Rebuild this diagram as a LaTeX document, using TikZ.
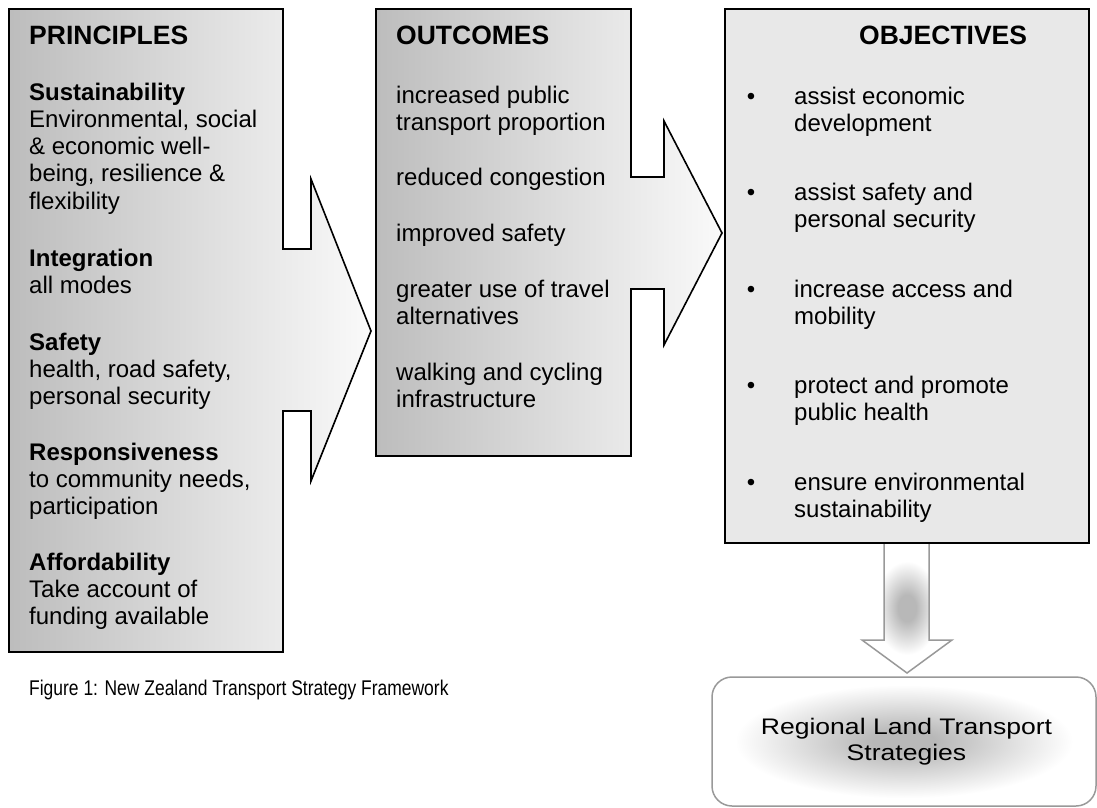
\documentclass[tikz,border=0pt]{standalone}
\usepackage{fontspec}
\setmainfont{Liberation Sans}
\newfontfamily\narrowfont{Liberation Sans}[FakeStretch=0.82]
\newfontfamily\widefont{Liberation Sans}[FakeStretch=1.18]
\definecolor{boxdark}{gray}{0.74}
\definecolor{boxlight}{gray}{0.98}
\definecolor{objfill}{gray}{0.91}
\definecolor{softline}{gray}{0.6}
\definecolor{softcore}{gray}{0.72}
% soft glows for the downward arrow and the strategies box
% (the central 50bp square of a shading is fitted to the path)
\pgfdeclareradialshading{softglow}{\pgfpoint{0bp}{0bp}}{%
  color(0bp)=(softcore); color(4bp)=(softcore); color(22bp)=(white); color(50bp)=(white)}
\pgfdeclareradialshading{arrowglow}{\pgfpoint{0bp}{0bp}}{%
  color(0bp)=(softcore); color(5bp)=(softcore); color(18bp)=(white); color(50bp)=(white)}
% one text line per node: name, x, first baseline, list of lines
\newcommand{\textlines}[4]{%
  \foreach \ln [count=\k from 0] in {#4}{%
    \node[linetext] (#1-\k) at (#2,#3+\k*27.3) {\ln};
  }}
\begin{document}
\begin{tikzpicture}[x=1pt,y=-1pt,
  frame/.style={draw=black,line width=1.6pt,line join=miter},
  fadebox/.style={frame,left color=boxdark,right color=boxlight},
  softshape/.style={draw=softline,line width=1.5pt},
  headtext/.style={anchor=base west,inner sep=0pt,font=\bfseries\fontsize{26.5}{30}\selectfont},
  linetext/.style={anchor=base west,inner sep=0pt,font=\fontsize{24}{27.3}\selectfont},
  bulletmark/.style={anchor=base,inner sep=0pt,font=\fontsize{24}{27.3}\selectfont}]
\useasboundingbox (0,0) rectangle (1097,808);
\fill[white] (0,0) rectangle (1097,808);

% Principles panel merged with its arrow
\draw[fadebox] (9,9) -- (283,9) -- (283,249) -- (311,249) -- (311,179)
  -- (371,331) -- (311,481) -- (311,411) -- (283,411) -- (283,652)
  -- (9,652) -- cycle;

% Outcomes panel merged with its arrow
\draw[fadebox] (376,9) -- (631,9) -- (631,177) -- (664,177) -- (664,121)
  -- (722,233) -- (664,345) -- (664,289) -- (631,289) -- (631,456)
  -- (376,456) -- cycle;

% Downward arrow to the regional strategies
\draw[softshape,line join=miter,shading=arrowglow]
  (884,543) -- (929,543) -- (929,640) -- (952,640)
  -- (907,673) -- (862,640) -- (884,640) -- cycle;

% Objectives panel
\draw[frame,fill=objfill] (725,9) rectangle (1089,543);

% Regional strategies box
\draw[softshape,rounded corners=20pt,shading=softglow] (712,677) rectangle (1096,806);

% Principles text
\node[headtext] (principles) at (29,45) {PRINCIPLES};
\textlines{sustain}{29}{100}{{\textbf{Sustainability}},{Environmental, social},{\& economic well-},{being, resilience \&},{flexibility}}
\textlines{integ}{29}{266.5}{{\textbf{Integration}},{all modes}}
\textlines{safety}{29}{350}{{\textbf{Safety}},{health, road safety,},{personal security}}
\textlines{respons}{29}{460}{{\textbf{Responsiveness}},{to community needs,},{participation}}
\textlines{afford}{29}{570}{{\textbf{Affordability}},{Take account of},{funding available}}

% Outcomes text
\node[headtext] (outcomes) at (396,45) {OUTCOMES};
\textlines{oc1}{396}{103}{{increased public},{transport proportion}}
\textlines{oc2}{396}{185}{{reduced congestion}}
\textlines{oc3}{396}{241}{{improved safety}}
\textlines{oc4}{396}{297}{{greater use of travel},{alternatives}}
\textlines{oc5}{396}{380}{{walking and cycling},{infrastructure}}

% Objectives text
\node[headtext] (objectives) at (859,45) {OBJECTIVES};
\node[bulletmark] (bul1) at (751,104) {•};
\textlines{obj1}{794}{104}{{assist economic},{development}}
\node[bulletmark] (bul2) at (751,200.5) {•};
\textlines{obj2}{794}{200.5}{{assist safety and},{personal security}}
\node[bulletmark] (bul3) at (751,297) {•};
\textlines{obj3}{794}{297}{{increase access and},{mobility}}
\node[bulletmark] (bul4) at (751,393.5) {•};
\textlines{obj4}{794}{393.5}{{protect and promote},{public health}}
\node[bulletmark] (bul5) at (751,490) {•};
\textlines{obj5}{794}{490}{{ensure environmental},{sustainability}}

% Regional strategies label
\node[anchor=base,inner sep=0pt,font=\widefont\fontsize{22.5}{26}\selectfont] (rlts1) at (906.5,734) {Regional Land Transport};
\node[anchor=base,inner sep=0pt,font=\widefont\fontsize{22.5}{26}\selectfont] (rlts2) at (906.5,760) {Strategies};

% Caption
\node[anchor=base west,inner sep=0pt,font=\narrowfont\fontsize{21.3}{24}\selectfont] (caption) at (29,695) {Figure 1: New Zealand Transport Strategy Framework};
\end{tikzpicture}
\end{document}
